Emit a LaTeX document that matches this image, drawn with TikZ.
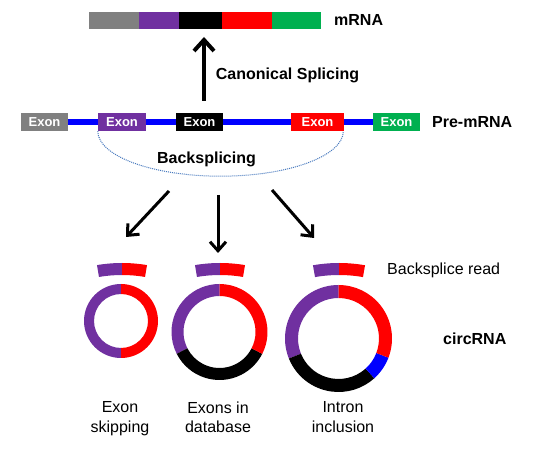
\documentclass[tikz,border=0pt]{standalone}
\usepackage{fontspec}
\setmainfont{Liberation Sans}
\usetikzlibrary{arrows.meta,calc}
\pgfdeclarelayer{bg}
\pgfsetlayers{bg,main}
\definecolor{cgray}{RGB}{128,128,128}
\definecolor{cpurple}{RGB}{112,48,160}
\definecolor{cred}{RGB}{255,0,0}
\definecolor{cgreen}{RGB}{0,176,80}
\definecolor{cblue}{RGB}{0,0,255}
\definecolor{cdot}{RGB}{70,120,190}
\newcommand\ringseg[7]{%
  \fill[#7] ($(#1,#2)+(#5:#3)$) arc[start angle=#5,end angle=#6,radius=#3]
    -- ($(#1,#2)+(#6:#4)$) arc[start angle=#6,end angle=#5,radius=#4] -- cycle;}
\tikzset{
  exonbox/.style={minimum height=18pt, inner sep=0pt, text=white, font=\fontsize{13}{15}\selectfont\bfseries},
  mseg/.style={minimum height=17pt, inner sep=0pt},
  boldlab/.style={inner sep=0pt, font=\fontsize{16}{19}\selectfont\bfseries},
  plainlab/.style={inner sep=0pt, font=\fontsize{16}{19.4}\selectfont, align=center},
  bigarrow/.style={line width=4pt, -{Straight Barb[length=11pt,width=20pt]}},
  arrow/.style={line width=3pt, -{Straight Barb[length=9pt,width=16pt]}},
}
\begin{document}
\begin{tikzpicture}[x=1pt,y=1pt]
\useasboundingbox (0,0) rectangle (540,452);
% mRNA
\node[mseg,fill=cgray,minimum width=50pt] (m1) at (114,431.5) {};
\node[mseg,fill=cpurple,minimum width=40pt] (m2) at (159,431.5) {};
\node[mseg,fill=black,minimum width=43pt] (m3) at (200.5,431.5) {};
\node[mseg,fill=cred,minimum width=50pt] (m4) at (247,431.5) {};
\node[mseg,fill=cgreen,minimum width=49pt] (m5) at (296.5,431.5) {};
\node[boldlab,anchor=base west] (mrna) at (334,426) {mRNA};
% canonical splicing arrow
\coordinate (cs0) at (204,351);
\coordinate (cs1) at (204,415);
\draw[bigarrow] (cs0) -- (cs1);
\node[boldlab,anchor=base] (cs) at (287.5,372) {Canonical Splicing};
% pre-mRNA
\node[exonbox,fill=cgray,minimum width=47pt] (e1) at (44.5,330) {Exon};
\node[exonbox,fill=cpurple,minimum width=48pt] (e2) at (122,330) {Exon};
\node[exonbox,fill=black,minimum width=47pt] (e3) at (199.5,330) {Exon};
\node[exonbox,fill=cred,minimum width=53pt] (e4) at (317.5,330) {Exon};
\node[exonbox,fill=cgreen,minimum width=47pt] (e5) at (396.5,330) {Exon};
\begin{pgfonlayer}{bg}
\fill[white] (0,0) rectangle (540,452);
\draw[cblue,line width=6pt] (e1.east) -- (e5.west);
\end{pgfonlayer}
\node[boldlab,anchor=base west] (pre) at (432,324.7) {Pre-mRNA};
% backsplicing
\draw[cdot,line width=1pt,dash pattern=on 1pt off 1pt] (e2.south west)
  arc[start angle=180,end angle=360,x radius=122.75,y radius=45];
\node[boldlab,anchor=base] (bs) at (206.5,288.7) {Backsplicing};
% arrows
\coordinate (a1s) at (169,261); \coordinate (a1e) at (126,215);
\coordinate (a2s) at (218,257); \coordinate (a2e) at (218,199);
\coordinate (a3s) at (272,262); \coordinate (a3e) at (314,214);
\draw[arrow] (a1s) -- (a1e);
\draw[arrow] (a2s) -- (a2e);
\draw[arrow] (a3s) -- (a3e);
% backsplice reads
\ringseg{122}{39}{150}{138}{90}{99.6}{cpurple}
\ringseg{122}{39}{150}{138}{80.4}{90}{cred}
\ringseg{220}{39}{150}{138}{90}{99.6}{cpurple}
\ringseg{220}{39}{150}{138}{80.4}{90}{cred}
\ringseg{339}{39}{150}{138}{90}{100}{cpurple}
\ringseg{339}{39}{150}{138}{80}{90}{cred}
\node[inner sep=0pt,font=\fontsize{16}{19}\selectfont,anchor=base west] (bsr) at (387,177.7) {Backsplice read};
% circles
\ringseg{121}{131}{37}{27}{90}{270}{cpurple}
\ringseg{121}{131}{37}{27}{-90}{90}{cred}
\ringseg{219.5}{120}{48}{36}{90}{207}{cpurple}
\ringseg{219.5}{120}{48}{36}{207}{333}{black}
\ringseg{219.5}{120}{48}{36}{-27}{90}{cred}
\ringseg{338.5}{113.5}{53.5}{40.5}{90}{202}{cpurple}
\ringseg{338.5}{113.5}{53.5}{40.5}{202}{312}{black}
\ringseg{338.5}{113.5}{53.5}{40.5}{312}{339}{cblue}
\ringseg{338.5}{113.5}{53.5}{40.5}{-21}{90}{cred}
\node[boldlab,anchor=base west] (circ) at (443,107) {circRNA};
% labels
\node[plainlab,anchor=north] (l1) at (120,50.3) {Exon\\skipping};
\node[plainlab,anchor=north] (l2) at (218,50.3) {Exons in\\database};
\node[plainlab,anchor=north] (l3) at (343,50.3) {Intron\\inclusion};
\end{tikzpicture}
\end{document}
